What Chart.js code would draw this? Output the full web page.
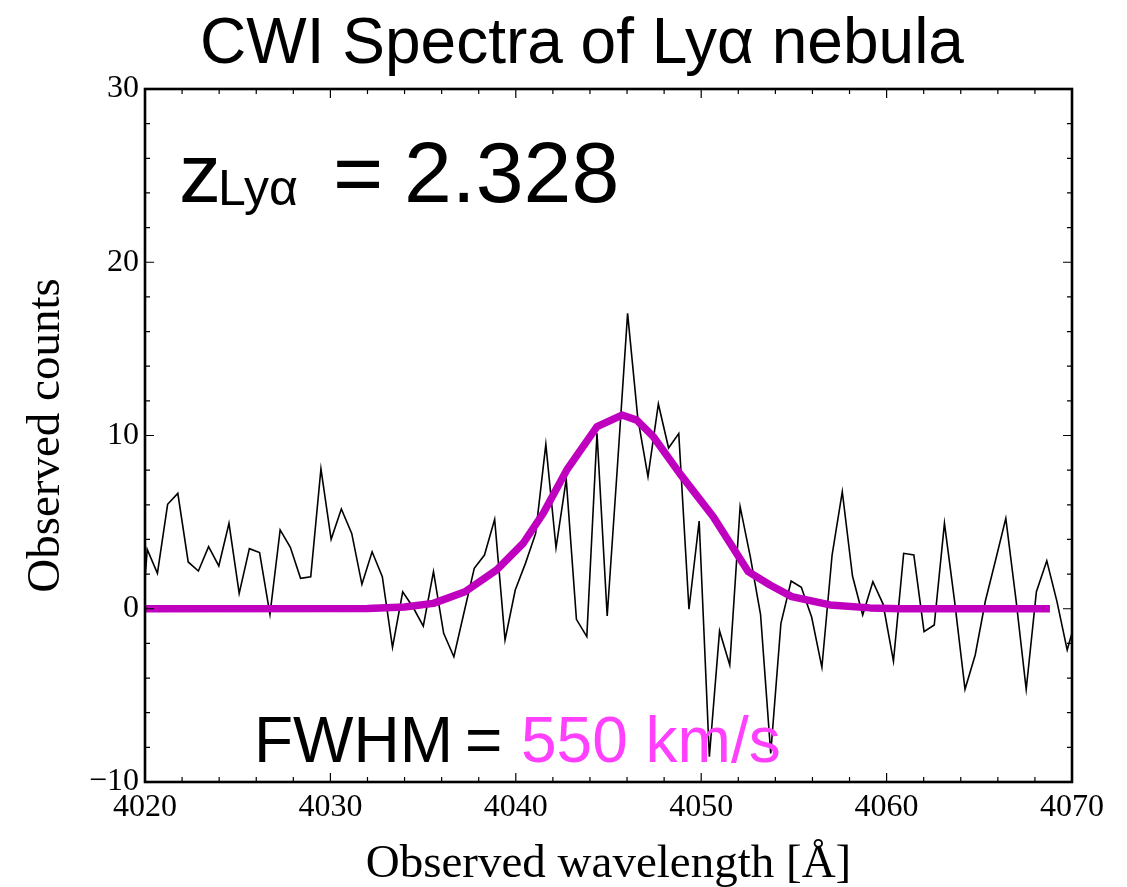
<!DOCTYPE html>
<html>
<head>
<meta charset="utf-8">
<script src="https://cdn.jsdelivr.net/npm/chart.js@4.4.1/dist/chart.umd.min.js"></script>
<style>
  body { margin: 0; background: white; }
  #wrap { width: 1127px; height: 887px; }
</style>
</head>
<body>
<div id="wrap"><canvas id="myChart" width="1127" height="887"></canvas></div>
<script>
// spectrum
const wavelength = [4019.57, 4020.12, 4020.67, 4021.22, 4021.77, 4022.33, 4022.88, 4023.43, 4023.98, 4024.53,
  4025.08, 4025.63, 4026.18, 4026.74, 4027.29, 4027.84, 4028.39, 4028.94, 4029.49, 4030.04,
  4030.59, 4031.15, 4031.70, 4032.25, 4032.80, 4033.35, 4033.90, 4034.45, 4035.01, 4035.56,
  4036.11, 4036.66, 4037.21, 4037.76, 4038.31, 4038.86, 4039.42, 4039.97, 4040.52, 4041.07,
  4041.62, 4042.17, 4042.72, 4043.27, 4043.83, 4044.38, 4044.93, 4045.48, 4046.03, 4046.58,
  4047.13, 4047.69, 4048.24, 4048.79, 4049.34, 4049.89, 4050.44, 4050.99, 4051.54, 4052.10,
  4052.65, 4053.20, 4053.75, 4054.30, 4054.85, 4055.40, 4055.96, 4056.51, 4057.06, 4057.61,
  4058.16, 4058.71, 4059.26, 4059.81, 4060.37, 4060.92, 4061.47, 4062.02, 4062.57, 4063.12,
  4063.67, 4064.23, 4064.78, 4065.33, 4065.88, 4066.43, 4066.98, 4067.53, 4068.08, 4068.64,
  4069.19, 4069.74, 4070.29];
const counts = [-4.5, 3.43, 2.05, 6.03, 6.66, 2.70, 2.18, 3.58, 2.47, 4.93,
  0.89, 3.47, 3.24, -0.32, 4.55, 3.55, 1.76, 1.85, 8.08, 4.01,
  5.76, 4.35, 1.41, 3.29, 1.85, -2.23, 0.98, 0.10, -1.00, 2.14,
  -1.42, -2.77, -0.20, 2.33, 3.10, 5.16, -1.80, 1.08, 2.62, 4.35,
  9.49, 3.52, 7.47, -0.61, -1.61, 10.13, -0.42, 8.20, 17.05, 11.00,
  7.62, 11.82, 9.28, 10.11, -0.03, 5.06, -8.54, -1.28, -3.25, 5.89,
  3.00, -0.32, -8.35, -0.84, 1.60, 1.24, -0.49, -3.38, 3.10, 6.76,
  1.89, -0.36, 1.56, 0.27, -3.02, 3.20, 3.10, -1.32, -0.94, 4.93,
  0.41, -4.65, -2.67, 0.46, 2.81, 5.22, 0.51, -4.65, 0.98, 2.77,
  0.41, -2.38, -0.30];

// gaussian fit curve
const fitWavelength = [4020.0, 4032.0, 4034.0, 4035.55, 4037.26, 4038.97, 4040.40, 4041.48, 4042.75, 4044.38,
  4045.73, 4046.52, 4047.42, 4048.85, 4050.65, 4052.54, 4053.71, 4054.88, 4056.95, 4059.11,
  4060.72, 4068.81];
const fitCounts = [0.0, 0.02, 0.1, 0.31, 0.98, 2.24, 3.78, 5.51, 8.01, 10.51,
  11.18, 10.89, 9.93, 7.8, 5.31, 2.14, 1.37, 0.70, 0.22, 0.05,
  0.0, 0.0];

const xMajorTicks = [4020, 4030, 4040, 4050, 4060, 4070];
const xTickLabels = ['4020', '4030', '4040', '4050', '4060', '4070'];
const yMajorTicks = [-10, 0, 10, 20, 30];
const yTickLabels = ['\u221210', '0', '10', '20', '30'];

const serif = '"Liberation Serif", "Times New Roman", serif';
const sans = '"Liberation Sans", Arial, Helvetica, sans-serif';

// inward ticks on all four sides + frame
const frameTicks = {
  id: 'frameTicks',
  afterDatasetsDraw(chart) {
    const { ctx, chartArea: a, scales } = chart;
    const xs = scales.x, ys = scales.y;
    ctx.save();
    ctx.strokeStyle = 'black';
    ctx.lineWidth = 1.2;
    ctx.beginPath();
    for (let v = 4020; v <= 4070; v += 2) {
      const px = xs.getPixelForValue(v);
      const len = xMajorTicks.includes(v) ? 9 : 5;
      ctx.moveTo(px, a.bottom); ctx.lineTo(px, a.bottom - len);
      ctx.moveTo(px, a.top); ctx.lineTo(px, a.top + len);
    }
    for (let v = -10; v <= 30; v += 2) {
      const py = ys.getPixelForValue(v);
      const len = yMajorTicks.includes(v) ? 9 : 5;
      ctx.moveTo(a.left, py); ctx.lineTo(a.left + len, py);
      ctx.moveTo(a.right, py); ctx.lineTo(a.right - len, py);
    }
    ctx.stroke();
    ctx.lineWidth = 2.6;
    ctx.strokeRect(a.left, a.top, a.right - a.left, a.bottom - a.top);
    ctx.restore();
  }
};

// title, axis titles and the two annotations
const labels = {
  id: 'labels',
  afterDraw(chart) {
    const { ctx, chartArea: a } = chart;
    ctx.save();
    ctx.fillStyle = 'black';
    ctx.textBaseline = 'alphabetic';

    ctx.font = '64px ' + sans;
    ctx.textAlign = 'center';
    ctx.fillText('CWI Spectra of Ly\u03b1 nebula', 582, 63);

    ctx.font = '47px ' + serif;
    ctx.fillText('Observed wavelength [\u00c5]', (a.left + a.right) / 2, 877);
    ctx.save();
    ctx.translate(59, (a.top + a.bottom) / 2);
    ctx.rotate(-Math.PI / 2);
    ctx.fillText('Observed counts', 0, 0);
    ctx.restore();

    ctx.textAlign = 'left';
    ctx.font = '84px ' + sans;
    ctx.fillText('z', 179, 202);
    ctx.font = '50px ' + sans;
    ctx.fillText('Ly\u03b1', 218, 205);
    ctx.font = '86px ' + sans;
    ctx.fillText('=', 333, 202);
    ctx.fillText('2.328', 404, 202);

    ctx.font = '64px ' + sans;
    ctx.fillText('FWHM', 254, 762);
    ctx.fillText('=', 465, 762);
    ctx.fillStyle = '#ff40ff';
    ctx.fillText('550 km/s', 521, 762);
    ctx.restore();
  }
};

var ctx = document.getElementById('myChart').getContext('2d');
var chart = new Chart(ctx, {
  type: 'line',
  data: {
    datasets: [
      {
        label: 'fit',
        data: fitWavelength.map((w, i) => ({ x: w, y: fitCounts[i] })),
        borderColor: '#bf00bf',
        borderWidth: 7.5,
        borderCapStyle: 'butt',
        borderJoinStyle: 'round',
        pointRadius: 0,
        tension: 0,
        order: 0,
      },
      {
        label: 'spectrum',
        data: wavelength.map((w, i) => ({ x: w, y: counts[i] })),
        borderColor: 'black',
        borderWidth: 1.6,
        pointRadius: 0,
        tension: 0,
        order: 1,
      },
    ],
  },
  options: {
    responsive: false,
    animation: false,
    layout: { padding: { left: 0, right: 55, top: 89, bottom: 0 } },
    plugins: { legend: { display: false }, title: { display: false }, tooltip: { enabled: false } },
    scales: {
      x: {
        type: 'linear',
        min: 4020,
        max: 4070,
        grid: { display: false, drawTicks: false },
        border: { display: false },
        afterBuildTicks: (s) => { s.ticks = xMajorTicks.map(v => ({ value: v })); },
        afterFit: (s) => { s.height = 105; },
        ticks: {
          color: 'black',
          padding: 6,
          maxRotation: 0,
          font: { family: serif, size: 32 },
          callback: (v) => xTickLabels[xMajorTicks.indexOf(v)],
        },
      },
      y: {
        min: -10,
        max: 30,
        grid: { display: false, drawTicks: false },
        border: { display: false },
        afterBuildTicks: (s) => { s.ticks = yMajorTicks.map(v => ({ value: v })); },
        afterFit: (s) => { s.width = 145; },
        ticks: {
          color: 'black',
          padding: 6,
          font: { family: serif, size: 32 },
          callback: (v) => yTickLabels[yMajorTicks.indexOf(v)],
        },
      },
    },
  },
  plugins: [frameTicks, labels],
});
</script>
</body>
</html>
